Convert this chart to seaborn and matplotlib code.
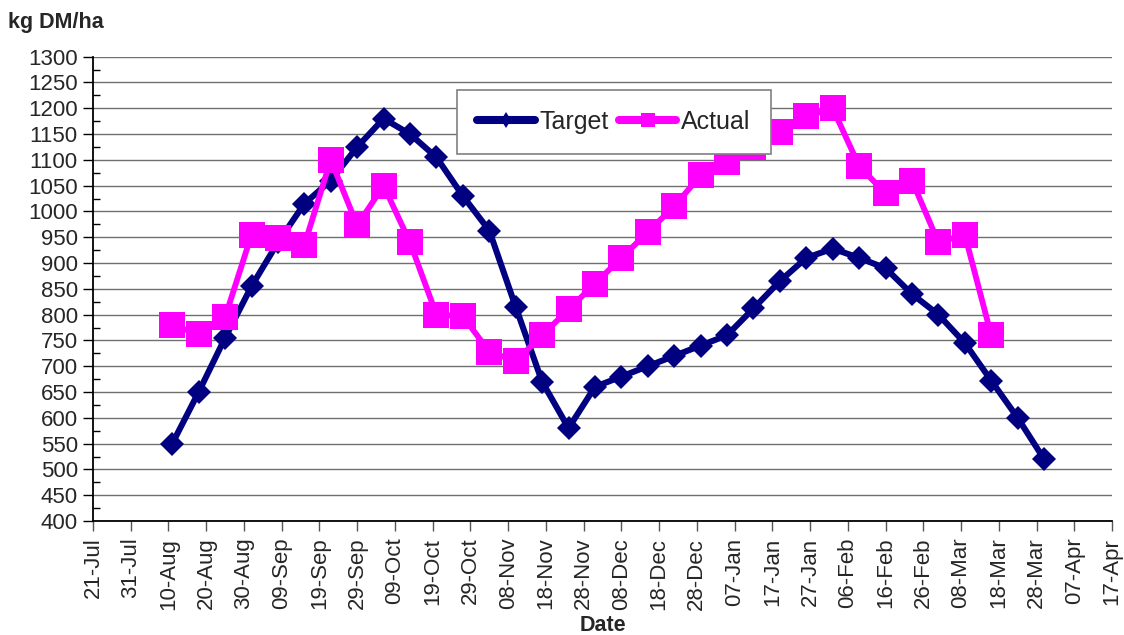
import matplotlib
matplotlib.use("Agg")
import matplotlib.pyplot as plt
from matplotlib.ticker import MultipleLocator
import seaborn as sns
import pandas as pd

# ---- data ----
target_start = "2010-08-11"
target_values = [550, 650, 755, 855, 940, 1015, 1060, 1125, 1180, 1150, 1105, 1030,
                 963, 815, 670, 580, 660, 680, 700, 720, 740, 760, 812, 865, 910,
                 928, 910, 890, 840, 800, 745, 672, 600, 520]
actual_start = "2010-08-11"
actual_values = [780, 762, 795, 955, 948, 935, 1100, 973, 1050, 940, 800, 797, 728,
                 710, 760, 810, 860, 910, 960, 1010, 1070, 1095, 1125, 1155, 1185,
                 1200, 1088, 1035, 1060, 940, 955, 760]
series_names = ["Target", "Actual"]
x_start = "2010-07-21"
x_end = "2011-04-17"
y_min, y_max, y_step = 400, 1300, 50

target_df = pd.DataFrame({"Date": pd.date_range(target_start, periods=len(target_values), freq="7D"),
                          "value": target_values})
actual_df = pd.DataFrame({"Date": pd.date_range(actual_start, periods=len(actual_values), freq="7D"),
                          "value": actual_values})

sns.set_theme(style="white")
plt.rcParams["font.family"] = ["Liberation Sans", "DejaVu Sans"]

fig = plt.figure(figsize=(11.24, 6.35), dpi=100)
ax = fig.add_axes([93 / 1124, 1 - 521 / 635, (1112 - 93) / 1124, (521 - 56.7) / 635])

navy = "#000080"
pink = "#FF00FF"

sns.lineplot(data=target_df, x="Date", y="value", ax=ax, color=navy, linewidth=4.4,
             marker="D", markersize=12.5, markeredgewidth=0, label=series_names[0], zorder=3)
sns.lineplot(data=actual_df, x="Date", y="value", ax=ax, color=pink, linewidth=4.2,
             marker="s", markersize=18.5, markeredgewidth=0, label=series_names[1], zorder=4)

ax.set_xlim(pd.Timestamp(x_start), pd.Timestamp(x_end))
ax.set_ylim(y_min, y_max)
ticks = pd.date_range(x_start, x_end, freq="10D")
ax.set_xticks(ticks)
ax.set_xticklabels([t.strftime("%d-%b") for t in ticks], rotation=90, fontsize=16)
ax.yaxis.set_major_locator(MultipleLocator(y_step))
ax.yaxis.set_minor_locator(MultipleLocator(y_step / 2))
ax.tick_params(axis="y", which="major", labelsize=16, direction="out", length=7, width=1,
               color="black", left=True, pad=4)
ax.tick_params(axis="y", which="minor", direction="in", length=5, width=1, color="black", left=True)
ax.tick_params(axis="x", which="major", direction="out", length=7, width=1, color="#555555",
               bottom=True, pad=5)

ax.grid(axis="y", which="major", color="#707070", linewidth=1)
ax.grid(axis="x", visible=False)
for s in ["top", "right"]:
    ax.spines[s].set_visible(False)
for s in ["left", "bottom"]:
    ax.spines[s].set_color("black")
    ax.spines[s].set_linewidth(1.3)

ax.set_xlabel("Date", fontsize=15.5, fontweight="bold", labelpad=4)
ax.set_ylabel("")
fig.text(8 / 1124, 1 - 28 / 635, "kg DM/ha", fontsize=15.5, fontweight="bold", ha="left", va="baseline")

leg = ax.legend(loc="upper left", bbox_to_anchor=(457 / 1124, 1 - 90 / 635),
                bbox_transform=fig.transFigure, ncol=2, fontsize=18, frameon=True,
                fancybox=False, edgecolor="#808080", facecolor="white", framealpha=1,
                handlelength=2.3, handletextpad=0.2,
                columnspacing=0.4, borderpad=0.8, borderaxespad=0)
leg.get_frame().set_linewidth(1.2)
leg.set_zorder(10)
for h, mk, ms in zip(leg.legend_handles, ["d", "s"], [8.0, 10.0]):
    h.set_linewidth(5.8)
    h.set_marker(mk)
    h.set_markersize(ms)
    h.set_solid_capstyle("round")

fig.savefig("out.png", dpi=100)
